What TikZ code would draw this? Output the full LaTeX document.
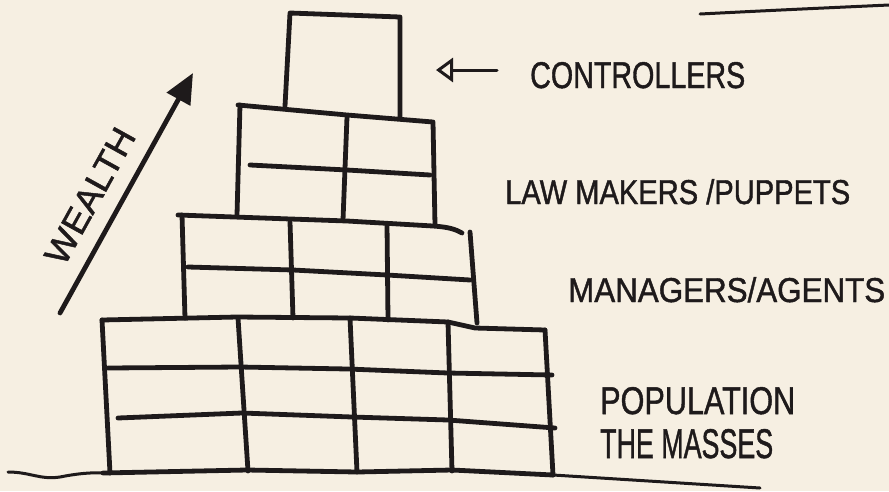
\documentclass[tikz,border=0pt]{standalone}
\usepackage{graphicx}
\usepackage{fontspec}
\setmainfont{Liberation Sans}
\newfontfamily\handfont{Liberation Sans}[FakeBold=1.3]
\usetikzlibrary{arrows.meta}
\definecolor{paper}{HTML}{F6EFE2}
\definecolor{ink}{HTML}{1E1A1B}
\tikzset{
  pen/.style={draw=ink, line width=4.8pt, line cap=round, line join=round},
  thinpen/.style={draw=ink, line width=3pt, line cap=round, line join=round},
  hand/.style={text=ink, inner sep=0pt, anchor=base west, font=\handfont},
}
\begin{document}
\begin{tikzpicture}[x=1pt,y=-1pt]
\fill[paper] (0,0) rectangle (889,491);
\useasboundingbox (0,0) rectangle (889,491);

% top box (controllers)
\draw[pen] (285,106) -- (290,13) -- (400,17) -- (400,118);

% lawmakers row
\draw[pen] (238,105) -- (347,115) -- (433,122) -- (435,225);
\draw[pen] (240,105) -- (237,215);
\draw[pen] (347,117) -- (343,220);
\draw[pen] (250,165) -- (347,170) -- (430,175);

% managers row
\draw[pen] (178,215) -- (347,221) -- (433,226) .. controls (448,227) and (455,229) .. (462,233);
\draw[pen] (182,215) -- (185,318);
\draw[pen] (470,232) -- (477,323);
\draw[pen] (290,222) -- (293,318);
\draw[pen] (387,224) -- (388,320);
\draw[pen] (188,267) -- (293,270) -- (387,275) -- (470,280);

% population row
\draw[pen] (102,320) -- (237,317) -- (350,318) -- (448,322) -- (475,328) -- (545,330);
\draw[pen] (102,320) -- (110,473);
\draw[pen] (545,330) -- (553,475);
\draw[pen] (238,318) -- (248,471);
\draw[pen] (350,318) -- (357,472);
\draw[pen] (448,322) -- (452,471);
\draw[pen] (108,368) -- (240,367) -- (348,369) -- (448,373) -- (552,375);
\draw[pen] (118,418) -- (242,413) -- (352,417) -- (448,420) -- (555,428);
\draw[pen] (103,473) -- (247,470) -- (357,472) -- (452,470) -- (553,475);

% ground lines
\draw[thinpen] (8,472) .. controls (30,472) and (40,480) .. (60,477) .. controls (75,474) and (90,472) .. (110,473);
\draw[thinpen] (553,475) -- (760,488);
\draw[thinpen] (700,14) .. controls (780,10) .. (889,5);

% wealth arrow
\coordinate (w0) at (60,313);
\coordinate (w1) at (193,73);
\draw[pen, -{Triangle[length=30pt,width=26pt]}] (w0) -- (w1);
\node[hand, anchor=center, rotate=61] (wealth) at (90,196) {\resizebox{150pt}{24pt}{WEALTH}};

% controllers arrow
\coordinate (c0) at (497,70);
\coordinate (c1) at (436,70);
\draw[thinpen, -{Triangle[open,length=17pt,width=24pt]}] (c0) -- (c1);

% labels
\node[hand] (controllers) at (530,88) {\resizebox{215pt}{26pt}{CONTROLLERS}};
\node[hand] (lawmakers) at (505,204) {\resizebox{345pt}{25pt}{LAW MAKERS /PUPPETS}};
\node[hand] (managers) at (568,302) {\resizebox{317pt}{25pt}{MANAGERS/AGENTS}};
\node[hand] (population) at (600,414) {\resizebox{195pt}{27pt}{POPULATION}};
\node[hand] (masses) at (600,458) {\resizebox{173pt}{29pt}{THE MASSES}};
\end{tikzpicture}
\end{document}
